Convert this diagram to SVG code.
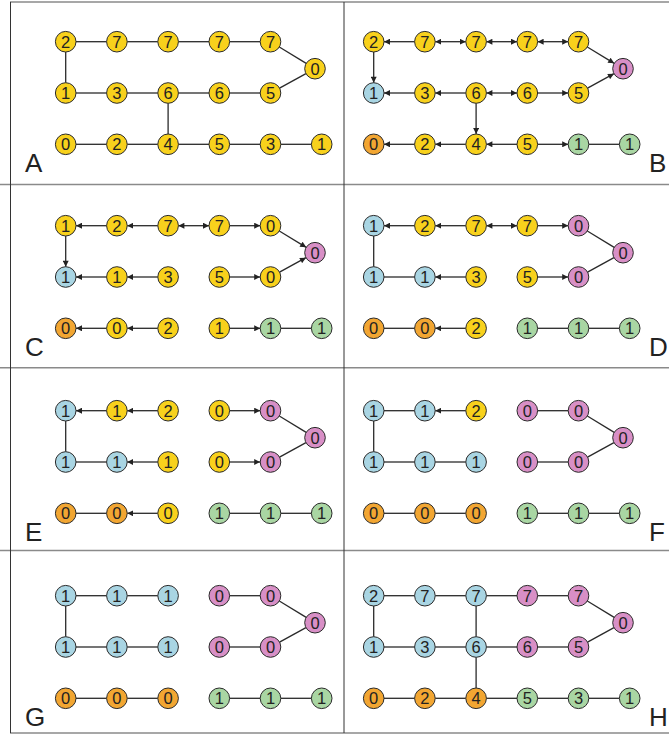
<svg xmlns="http://www.w3.org/2000/svg" width="669" height="734" viewBox="0 0 669 734">
<defs>
<marker id="ah" viewBox="0 0 10 10" refX="10" refY="5" markerUnits="userSpaceOnUse" markerWidth="6.5" markerHeight="6" orient="auto-start-reverse"><path d="M0,0 L10,5 L0,10 z" fill="#222"/></marker>
<style>
.grid{stroke:#8a8a8a;stroke-width:1.5}
.vgrid{stroke:#333;stroke-width:1}
.edges line{stroke:#2a2a2a;stroke-width:1.3;fill:none}
.edges line.a{marker-end:url(#ah)}
.edges line.d{marker-start:url(#ah);marker-end:url(#ah)}
.n circle{stroke:#2a2a2a;stroke-width:1}
.n text{font-family:"Liberation Sans",Arial,sans-serif;font-size:16.5px;fill:#222;text-anchor:middle}
.y circle{fill:#F8D11C}
.b circle{fill:#A9D5E3}
.p circle{fill:#D88FC6}
.o circle{fill:#F2A632}
.g circle{fill:#A9D6A3}
.lbl{font-family:"Liberation Sans",Arial,sans-serif;font-size:26px;fill:#222}
</style>
</defs>
<rect width="669" height="734" fill="#fff"/>
<g id="frame">
<line class="grid" x1="10" y1="2" x2="669" y2="2"/>
<line class="grid" x1="0" y1="184.5" x2="669" y2="184.5"/>
<line class="grid" x1="0" y1="367.7" x2="669" y2="367.7"/>
<line class="grid" x1="0" y1="550.5" x2="669" y2="550.5"/>
<line class="grid" x1="10" y1="733" x2="669" y2="733"/>
<line class="vgrid" x1="10.5" y1="2" x2="10.5" y2="733"/>
<line class="vgrid" x1="344" y1="2" x2="344" y2="733"/>
</g>
<g id="labels">
<text class="lbl" x="25" y="172">A</text>
<text class="lbl" x="649" y="172">B</text>
<text class="lbl" x="25" y="356">C</text>
<text class="lbl" x="649" y="356">D</text>
<text class="lbl" x="25" y="541">E</text>
<text class="lbl" x="649" y="541">F</text>
<text class="lbl" x="25" y="726">G</text>
<text class="lbl" x="649" y="726">H</text>
</g>

<!-- Panel A -->
<g id="panelA">
<g id="A-connectors" class="edges">
<line x1="76" y1="41.7" x2="106.6" y2="41.7"/>
<line x1="127.2" y1="41.7" x2="157.8" y2="41.7"/>
<line x1="178.4" y1="41.7" x2="209" y2="41.7"/>
<line x1="229.6" y1="41.7" x2="260.2" y2="41.7"/>
<line x1="279.31" y1="47.05" x2="306.19" y2="63.35"/>
<line x1="305.96" y1="73.64" x2="279.54" y2="88.06"/>
<line x1="76" y1="93" x2="106.6" y2="93"/>
<line x1="127.2" y1="93" x2="157.8" y2="93"/>
<line x1="178.4" y1="93" x2="209" y2="93"/>
<line x1="229.6" y1="93" x2="260.2" y2="93"/>
<line x1="65.7" y1="52" x2="65.7" y2="82.7"/>
<line x1="168.1" y1="103.3" x2="168.1" y2="134"/>
<line x1="76" y1="144.3" x2="106.6" y2="144.3"/>
<line x1="127.2" y1="144.3" x2="157.8" y2="144.3"/>
<line x1="178.4" y1="144.3" x2="209" y2="144.3"/>
<line x1="229.6" y1="144.3" x2="260.2" y2="144.3"/>
<line x1="280.8" y1="144.3" x2="311.4" y2="144.3"/>
</g>
<g id="A-t0" class="n y"><circle cx="65.7" cy="41.7" r="10.3"/><text x="65.7" y="47.6">2</text></g>
<g id="A-t1" class="n y"><circle cx="116.9" cy="41.7" r="10.3"/><text x="116.9" y="47.6">7</text></g>
<g id="A-t2" class="n y"><circle cx="168.1" cy="41.7" r="10.3"/><text x="168.1" y="47.6">7</text></g>
<g id="A-t3" class="n y"><circle cx="219.3" cy="41.7" r="10.3"/><text x="219.3" y="47.6">7</text></g>
<g id="A-t4" class="n y"><circle cx="270.5" cy="41.7" r="10.3"/><text x="270.5" y="47.6">7</text></g>
<g id="A-z" class="n y"><circle cx="315" cy="68.7" r="10.3"/><text x="315" y="74.6">0</text></g>
<g id="A-m0" class="n y"><circle cx="65.7" cy="93" r="10.3"/><text x="65.7" y="98.9">1</text></g>
<g id="A-m1" class="n y"><circle cx="116.9" cy="93" r="10.3"/><text x="116.9" y="98.9">3</text></g>
<g id="A-m2" class="n y"><circle cx="168.1" cy="93" r="10.3"/><text x="168.1" y="98.9">6</text></g>
<g id="A-m3" class="n y"><circle cx="219.3" cy="93" r="10.3"/><text x="219.3" y="98.9">6</text></g>
<g id="A-m4" class="n y"><circle cx="270.5" cy="93" r="10.3"/><text x="270.5" y="98.9">5</text></g>
<g id="A-b0" class="n y"><circle cx="65.7" cy="144.3" r="10.3"/><text x="65.7" y="150.2">0</text></g>
<g id="A-b1" class="n y"><circle cx="116.9" cy="144.3" r="10.3"/><text x="116.9" y="150.2">2</text></g>
<g id="A-b2" class="n y"><circle cx="168.1" cy="144.3" r="10.3"/><text x="168.1" y="150.2">4</text></g>
<g id="A-b3" class="n y"><circle cx="219.3" cy="144.3" r="10.3"/><text x="219.3" y="150.2">5</text></g>
<g id="A-b4" class="n y"><circle cx="270.5" cy="144.3" r="10.3"/><text x="270.5" y="150.2">3</text></g>
<g id="A-b5" class="n y"><circle cx="321.7" cy="144.3" r="10.3"/><text x="321.7" y="150.2">1</text></g>
</g>

<!-- Panel B -->
<g id="panelB" transform="translate(308,0)">
<g id="B-connectors" class="edges">
<line class="a" x1="106.6" y1="41.7" x2="76" y2="41.7"/>
<line class="d" x1="127.2" y1="41.7" x2="157.8" y2="41.7"/>
<line class="d" x1="178.4" y1="41.7" x2="209" y2="41.7"/>
<line class="d" x1="229.6" y1="41.7" x2="260.2" y2="41.7"/>
<line class="a" x1="279.31" y1="47.05" x2="306.19" y2="63.35"/>
<line class="a" x1="279.54" y1="88.06" x2="305.96" y2="73.64"/>
<line class="a" x1="65.7" y1="52" x2="65.7" y2="82.7"/>
<line class="a" x1="106.6" y1="93" x2="76" y2="93"/>
<line class="a" x1="157.8" y1="93" x2="127.2" y2="93"/>
<line class="d" x1="178.4" y1="93" x2="209" y2="93"/>
<line class="a" x1="229.6" y1="93" x2="260.2" y2="93"/>
<line class="a" x1="168.1" y1="103.3" x2="168.1" y2="134"/>
<line class="a" x1="106.6" y1="144.3" x2="76" y2="144.3"/>
<line class="a" x1="157.8" y1="144.3" x2="127.2" y2="144.3"/>
<line class="a" x1="209" y1="144.3" x2="178.4" y2="144.3"/>
<line class="a" x1="229.6" y1="144.3" x2="260.2" y2="144.3"/>
<line x1="280.8" y1="144.3" x2="311.4" y2="144.3"/>
</g>
<g id="B-t0" class="n y"><circle cx="65.7" cy="41.7" r="10.3"/><text x="65.7" y="47.6">2</text></g>
<g id="B-t1" class="n y"><circle cx="116.9" cy="41.7" r="10.3"/><text x="116.9" y="47.6">7</text></g>
<g id="B-t2" class="n y"><circle cx="168.1" cy="41.7" r="10.3"/><text x="168.1" y="47.6">7</text></g>
<g id="B-t3" class="n y"><circle cx="219.3" cy="41.7" r="10.3"/><text x="219.3" y="47.6">7</text></g>
<g id="B-t4" class="n y"><circle cx="270.5" cy="41.7" r="10.3"/><text x="270.5" y="47.6">7</text></g>
<g id="B-z" class="n p"><circle cx="315" cy="68.7" r="10.3"/><text x="315" y="74.6">0</text></g>
<g id="B-m0" class="n b"><circle cx="65.7" cy="93" r="10.3"/><text x="65.7" y="98.9">1</text></g>
<g id="B-m1" class="n y"><circle cx="116.9" cy="93" r="10.3"/><text x="116.9" y="98.9">3</text></g>
<g id="B-m2" class="n y"><circle cx="168.1" cy="93" r="10.3"/><text x="168.1" y="98.9">6</text></g>
<g id="B-m3" class="n y"><circle cx="219.3" cy="93" r="10.3"/><text x="219.3" y="98.9">6</text></g>
<g id="B-m4" class="n y"><circle cx="270.5" cy="93" r="10.3"/><text x="270.5" y="98.9">5</text></g>
<g id="B-b0" class="n o"><circle cx="65.7" cy="144.3" r="10.3"/><text x="65.7" y="150.2">0</text></g>
<g id="B-b1" class="n y"><circle cx="116.9" cy="144.3" r="10.3"/><text x="116.9" y="150.2">2</text></g>
<g id="B-b2" class="n y"><circle cx="168.1" cy="144.3" r="10.3"/><text x="168.1" y="150.2">4</text></g>
<g id="B-b3" class="n y"><circle cx="219.3" cy="144.3" r="10.3"/><text x="219.3" y="150.2">5</text></g>
<g id="B-b4" class="n g"><circle cx="270.5" cy="144.3" r="10.3"/><text x="270.5" y="150.2">1</text></g>
<g id="B-b5" class="n g"><circle cx="321.7" cy="144.3" r="10.3"/><text x="321.7" y="150.2">1</text></g>
</g>

<!-- Panel C -->
<g id="panelC" transform="translate(0,184)">
<g id="C-connectors" class="edges">
<line class="a" x1="106.6" y1="41.7" x2="76" y2="41.7"/>
<line class="a" x1="157.8" y1="41.7" x2="127.2" y2="41.7"/>
<line class="d" x1="178.4" y1="41.7" x2="209" y2="41.7"/>
<line class="a" x1="229.6" y1="41.7" x2="260.2" y2="41.7"/>
<line class="a" x1="279.31" y1="47.05" x2="306.19" y2="63.35"/>
<line class="a" x1="279.54" y1="88.06" x2="305.96" y2="73.64"/>
<line class="a" x1="65.7" y1="52" x2="65.7" y2="82.7"/>
<line class="a" x1="106.6" y1="93" x2="76" y2="93"/>
<line class="a" x1="157.8" y1="93" x2="127.2" y2="93"/>
<line class="a" x1="229.6" y1="93" x2="260.2" y2="93"/>
<line class="a" x1="106.6" y1="144.3" x2="76" y2="144.3"/>
<line class="a" x1="157.8" y1="144.3" x2="127.2" y2="144.3"/>
<line class="a" x1="229.6" y1="144.3" x2="260.2" y2="144.3"/>
<line x1="280.8" y1="144.3" x2="311.4" y2="144.3"/>
</g>
<g id="C-t0" class="n y"><circle cx="65.7" cy="41.7" r="10.3"/><text x="65.7" y="47.6">1</text></g>
<g id="C-t1" class="n y"><circle cx="116.9" cy="41.7" r="10.3"/><text x="116.9" y="47.6">2</text></g>
<g id="C-t2" class="n y"><circle cx="168.1" cy="41.7" r="10.3"/><text x="168.1" y="47.6">7</text></g>
<g id="C-t3" class="n y"><circle cx="219.3" cy="41.7" r="10.3"/><text x="219.3" y="47.6">7</text></g>
<g id="C-t4" class="n y"><circle cx="270.5" cy="41.7" r="10.3"/><text x="270.5" y="47.6">0</text></g>
<g id="C-z" class="n p"><circle cx="315" cy="68.7" r="10.3"/><text x="315" y="74.6">0</text></g>
<g id="C-m0" class="n b"><circle cx="65.7" cy="93" r="10.3"/><text x="65.7" y="98.9">1</text></g>
<g id="C-m1" class="n y"><circle cx="116.9" cy="93" r="10.3"/><text x="116.9" y="98.9">1</text></g>
<g id="C-m2" class="n y"><circle cx="168.1" cy="93" r="10.3"/><text x="168.1" y="98.9">3</text></g>
<g id="C-m3" class="n y"><circle cx="219.3" cy="93" r="10.3"/><text x="219.3" y="98.9">5</text></g>
<g id="C-m4" class="n y"><circle cx="270.5" cy="93" r="10.3"/><text x="270.5" y="98.9">0</text></g>
<g id="C-b0" class="n o"><circle cx="65.7" cy="144.3" r="10.3"/><text x="65.7" y="150.2">0</text></g>
<g id="C-b1" class="n y"><circle cx="116.9" cy="144.3" r="10.3"/><text x="116.9" y="150.2">0</text></g>
<g id="C-b2" class="n y"><circle cx="168.1" cy="144.3" r="10.3"/><text x="168.1" y="150.2">2</text></g>
<g id="C-b3" class="n y"><circle cx="219.3" cy="144.3" r="10.3"/><text x="219.3" y="150.2">1</text></g>
<g id="C-b4" class="n g"><circle cx="270.5" cy="144.3" r="10.3"/><text x="270.5" y="150.2">1</text></g>
<g id="C-b5" class="n g"><circle cx="321.7" cy="144.3" r="10.3"/><text x="321.7" y="150.2">1</text></g>
</g>

<!-- Panel D -->
<g id="panelD" transform="translate(308,184)">
<g id="D-connectors" class="edges">
<line class="a" x1="106.6" y1="41.7" x2="76" y2="41.7"/>
<line class="a" x1="157.8" y1="41.7" x2="127.2" y2="41.7"/>
<line class="d" x1="178.4" y1="41.7" x2="209" y2="41.7"/>
<line class="a" x1="229.6" y1="41.7" x2="260.2" y2="41.7"/>
<line x1="279.31" y1="47.05" x2="306.19" y2="63.35"/>
<line x1="279.54" y1="88.06" x2="305.96" y2="73.64"/>
<line x1="65.7" y1="52" x2="65.7" y2="82.7"/>
<line x1="76" y1="93" x2="106.6" y2="93"/>
<line class="a" x1="157.8" y1="93" x2="127.2" y2="93"/>
<line class="a" x1="229.6" y1="93" x2="260.2" y2="93"/>
<line x1="76" y1="144.3" x2="106.6" y2="144.3"/>
<line class="a" x1="157.8" y1="144.3" x2="127.2" y2="144.3"/>
<line x1="229.6" y1="144.3" x2="260.2" y2="144.3"/>
<line x1="280.8" y1="144.3" x2="311.4" y2="144.3"/>
</g>
<g id="D-t0" class="n b"><circle cx="65.7" cy="41.7" r="10.3"/><text x="65.7" y="47.6">1</text></g>
<g id="D-t1" class="n y"><circle cx="116.9" cy="41.7" r="10.3"/><text x="116.9" y="47.6">2</text></g>
<g id="D-t2" class="n y"><circle cx="168.1" cy="41.7" r="10.3"/><text x="168.1" y="47.6">7</text></g>
<g id="D-t3" class="n y"><circle cx="219.3" cy="41.7" r="10.3"/><text x="219.3" y="47.6">7</text></g>
<g id="D-t4" class="n p"><circle cx="270.5" cy="41.7" r="10.3"/><text x="270.5" y="47.6">0</text></g>
<g id="D-z" class="n p"><circle cx="315" cy="68.7" r="10.3"/><text x="315" y="74.6">0</text></g>
<g id="D-m0" class="n b"><circle cx="65.7" cy="93" r="10.3"/><text x="65.7" y="98.9">1</text></g>
<g id="D-m1" class="n b"><circle cx="116.9" cy="93" r="10.3"/><text x="116.9" y="98.9">1</text></g>
<g id="D-m2" class="n y"><circle cx="168.1" cy="93" r="10.3"/><text x="168.1" y="98.9">3</text></g>
<g id="D-m3" class="n y"><circle cx="219.3" cy="93" r="10.3"/><text x="219.3" y="98.9">5</text></g>
<g id="D-m4" class="n p"><circle cx="270.5" cy="93" r="10.3"/><text x="270.5" y="98.9">0</text></g>
<g id="D-b0" class="n o"><circle cx="65.7" cy="144.3" r="10.3"/><text x="65.7" y="150.2">0</text></g>
<g id="D-b1" class="n o"><circle cx="116.9" cy="144.3" r="10.3"/><text x="116.9" y="150.2">0</text></g>
<g id="D-b2" class="n y"><circle cx="168.1" cy="144.3" r="10.3"/><text x="168.1" y="150.2">2</text></g>
<g id="D-b3" class="n g"><circle cx="219.3" cy="144.3" r="10.3"/><text x="219.3" y="150.2">1</text></g>
<g id="D-b4" class="n g"><circle cx="270.5" cy="144.3" r="10.3"/><text x="270.5" y="150.2">1</text></g>
<g id="D-b5" class="n g"><circle cx="321.7" cy="144.3" r="10.3"/><text x="321.7" y="150.2">1</text></g>
</g>

<!-- Panel E -->
<g id="panelE" transform="translate(0,369)">
<g id="E-connectors" class="edges">
<line class="a" x1="106.6" y1="41.7" x2="76" y2="41.7"/>
<line class="a" x1="157.8" y1="41.7" x2="127.2" y2="41.7"/>
<line class="a" x1="229.6" y1="41.7" x2="260.2" y2="41.7"/>
<line x1="279.31" y1="47.05" x2="306.19" y2="63.35"/>
<line x1="279.54" y1="88.06" x2="305.96" y2="73.64"/>
<line x1="65.7" y1="52" x2="65.7" y2="82.7"/>
<line x1="76" y1="93" x2="106.6" y2="93"/>
<line class="a" x1="157.8" y1="93" x2="127.2" y2="93"/>
<line class="a" x1="229.6" y1="93" x2="260.2" y2="93"/>
<line x1="76" y1="144.3" x2="106.6" y2="144.3"/>
<line class="a" x1="157.8" y1="144.3" x2="127.2" y2="144.3"/>
<line x1="229.6" y1="144.3" x2="260.2" y2="144.3"/>
<line x1="280.8" y1="144.3" x2="311.4" y2="144.3"/>
</g>
<g id="E-t0" class="n b"><circle cx="65.7" cy="41.7" r="10.3"/><text x="65.7" y="47.6">1</text></g>
<g id="E-t1" class="n y"><circle cx="116.9" cy="41.7" r="10.3"/><text x="116.9" y="47.6">1</text></g>
<g id="E-t2" class="n y"><circle cx="168.1" cy="41.7" r="10.3"/><text x="168.1" y="47.6">2</text></g>
<g id="E-t3" class="n y"><circle cx="219.3" cy="41.7" r="10.3"/><text x="219.3" y="47.6">0</text></g>
<g id="E-t4" class="n p"><circle cx="270.5" cy="41.7" r="10.3"/><text x="270.5" y="47.6">0</text></g>
<g id="E-z" class="n p"><circle cx="315" cy="68.7" r="10.3"/><text x="315" y="74.6">0</text></g>
<g id="E-m0" class="n b"><circle cx="65.7" cy="93" r="10.3"/><text x="65.7" y="98.9">1</text></g>
<g id="E-m1" class="n b"><circle cx="116.9" cy="93" r="10.3"/><text x="116.9" y="98.9">1</text></g>
<g id="E-m2" class="n y"><circle cx="168.1" cy="93" r="10.3"/><text x="168.1" y="98.9">1</text></g>
<g id="E-m3" class="n y"><circle cx="219.3" cy="93" r="10.3"/><text x="219.3" y="98.9">0</text></g>
<g id="E-m4" class="n p"><circle cx="270.5" cy="93" r="10.3"/><text x="270.5" y="98.9">0</text></g>
<g id="E-b0" class="n o"><circle cx="65.7" cy="144.3" r="10.3"/><text x="65.7" y="150.2">0</text></g>
<g id="E-b1" class="n o"><circle cx="116.9" cy="144.3" r="10.3"/><text x="116.9" y="150.2">0</text></g>
<g id="E-b2" class="n y"><circle cx="168.1" cy="144.3" r="10.3"/><text x="168.1" y="150.2">0</text></g>
<g id="E-b3" class="n g"><circle cx="219.3" cy="144.3" r="10.3"/><text x="219.3" y="150.2">1</text></g>
<g id="E-b4" class="n g"><circle cx="270.5" cy="144.3" r="10.3"/><text x="270.5" y="150.2">1</text></g>
<g id="E-b5" class="n g"><circle cx="321.7" cy="144.3" r="10.3"/><text x="321.7" y="150.2">1</text></g>
</g>

<!-- Panel F -->
<g id="panelF" transform="translate(308,369)">
<g id="F-connectors" class="edges">
<line x1="76" y1="41.7" x2="106.6" y2="41.7"/>
<line class="a" x1="157.8" y1="41.7" x2="127.2" y2="41.7"/>
<line x1="229.6" y1="41.7" x2="260.2" y2="41.7"/>
<line x1="279.31" y1="47.05" x2="306.19" y2="63.35"/>
<line x1="279.54" y1="88.06" x2="305.96" y2="73.64"/>
<line x1="65.7" y1="52" x2="65.7" y2="82.7"/>
<line x1="76" y1="93" x2="106.6" y2="93"/>
<line x1="127.2" y1="93" x2="157.8" y2="93"/>
<line x1="229.6" y1="93" x2="260.2" y2="93"/>
<line x1="76" y1="144.3" x2="106.6" y2="144.3"/>
<line x1="127.2" y1="144.3" x2="157.8" y2="144.3"/>
<line x1="229.6" y1="144.3" x2="260.2" y2="144.3"/>
<line x1="280.8" y1="144.3" x2="311.4" y2="144.3"/>
</g>
<g id="F-t0" class="n b"><circle cx="65.7" cy="41.7" r="10.3"/><text x="65.7" y="47.6">1</text></g>
<g id="F-t1" class="n b"><circle cx="116.9" cy="41.7" r="10.3"/><text x="116.9" y="47.6">1</text></g>
<g id="F-t2" class="n y"><circle cx="168.1" cy="41.7" r="10.3"/><text x="168.1" y="47.6">2</text></g>
<g id="F-t3" class="n p"><circle cx="219.3" cy="41.7" r="10.3"/><text x="219.3" y="47.6">0</text></g>
<g id="F-t4" class="n p"><circle cx="270.5" cy="41.7" r="10.3"/><text x="270.5" y="47.6">0</text></g>
<g id="F-z" class="n p"><circle cx="315" cy="68.7" r="10.3"/><text x="315" y="74.6">0</text></g>
<g id="F-m0" class="n b"><circle cx="65.7" cy="93" r="10.3"/><text x="65.7" y="98.9">1</text></g>
<g id="F-m1" class="n b"><circle cx="116.9" cy="93" r="10.3"/><text x="116.9" y="98.9">1</text></g>
<g id="F-m2" class="n b"><circle cx="168.1" cy="93" r="10.3"/><text x="168.1" y="98.9">1</text></g>
<g id="F-m3" class="n p"><circle cx="219.3" cy="93" r="10.3"/><text x="219.3" y="98.9">0</text></g>
<g id="F-m4" class="n p"><circle cx="270.5" cy="93" r="10.3"/><text x="270.5" y="98.9">0</text></g>
<g id="F-b0" class="n o"><circle cx="65.7" cy="144.3" r="10.3"/><text x="65.7" y="150.2">0</text></g>
<g id="F-b1" class="n o"><circle cx="116.9" cy="144.3" r="10.3"/><text x="116.9" y="150.2">0</text></g>
<g id="F-b2" class="n o"><circle cx="168.1" cy="144.3" r="10.3"/><text x="168.1" y="150.2">0</text></g>
<g id="F-b3" class="n g"><circle cx="219.3" cy="144.3" r="10.3"/><text x="219.3" y="150.2">1</text></g>
<g id="F-b4" class="n g"><circle cx="270.5" cy="144.3" r="10.3"/><text x="270.5" y="150.2">1</text></g>
<g id="F-b5" class="n g"><circle cx="321.7" cy="144.3" r="10.3"/><text x="321.7" y="150.2">1</text></g>
</g>

<!-- Panel G -->
<g id="panelG" transform="translate(0,554)">
<g id="G-connectors" class="edges">
<line x1="76" y1="41.7" x2="106.6" y2="41.7"/>
<line x1="127.2" y1="41.7" x2="157.8" y2="41.7"/>
<line x1="229.6" y1="41.7" x2="260.2" y2="41.7"/>
<line x1="279.31" y1="47.05" x2="306.19" y2="63.35"/>
<line x1="279.54" y1="88.06" x2="305.96" y2="73.64"/>
<line x1="65.7" y1="52" x2="65.7" y2="82.7"/>
<line x1="76" y1="93" x2="106.6" y2="93"/>
<line x1="127.2" y1="93" x2="157.8" y2="93"/>
<line x1="229.6" y1="93" x2="260.2" y2="93"/>
<line x1="76" y1="144.3" x2="106.6" y2="144.3"/>
<line x1="127.2" y1="144.3" x2="157.8" y2="144.3"/>
<line x1="229.6" y1="144.3" x2="260.2" y2="144.3"/>
<line x1="280.8" y1="144.3" x2="311.4" y2="144.3"/>
</g>
<g id="G-t0" class="n b"><circle cx="65.7" cy="41.7" r="10.3"/><text x="65.7" y="47.6">1</text></g>
<g id="G-t1" class="n b"><circle cx="116.9" cy="41.7" r="10.3"/><text x="116.9" y="47.6">1</text></g>
<g id="G-t2" class="n b"><circle cx="168.1" cy="41.7" r="10.3"/><text x="168.1" y="47.6">1</text></g>
<g id="G-t3" class="n p"><circle cx="219.3" cy="41.7" r="10.3"/><text x="219.3" y="47.6">0</text></g>
<g id="G-t4" class="n p"><circle cx="270.5" cy="41.7" r="10.3"/><text x="270.5" y="47.6">0</text></g>
<g id="G-z" class="n p"><circle cx="315" cy="68.7" r="10.3"/><text x="315" y="74.6">0</text></g>
<g id="G-m0" class="n b"><circle cx="65.7" cy="93" r="10.3"/><text x="65.7" y="98.9">1</text></g>
<g id="G-m1" class="n b"><circle cx="116.9" cy="93" r="10.3"/><text x="116.9" y="98.9">1</text></g>
<g id="G-m2" class="n b"><circle cx="168.1" cy="93" r="10.3"/><text x="168.1" y="98.9">1</text></g>
<g id="G-m3" class="n p"><circle cx="219.3" cy="93" r="10.3"/><text x="219.3" y="98.9">0</text></g>
<g id="G-m4" class="n p"><circle cx="270.5" cy="93" r="10.3"/><text x="270.5" y="98.9">0</text></g>
<g id="G-b0" class="n o"><circle cx="65.7" cy="144.3" r="10.3"/><text x="65.7" y="150.2">0</text></g>
<g id="G-b1" class="n o"><circle cx="116.9" cy="144.3" r="10.3"/><text x="116.9" y="150.2">0</text></g>
<g id="G-b2" class="n o"><circle cx="168.1" cy="144.3" r="10.3"/><text x="168.1" y="150.2">0</text></g>
<g id="G-b3" class="n g"><circle cx="219.3" cy="144.3" r="10.3"/><text x="219.3" y="150.2">1</text></g>
<g id="G-b4" class="n g"><circle cx="270.5" cy="144.3" r="10.3"/><text x="270.5" y="150.2">1</text></g>
<g id="G-b5" class="n g"><circle cx="321.7" cy="144.3" r="10.3"/><text x="321.7" y="150.2">1</text></g>
</g>

<!-- Panel H -->
<g id="panelH" transform="translate(308,554)">
<g id="H-connectors" class="edges">
<line x1="76" y1="41.7" x2="106.6" y2="41.7"/>
<line x1="127.2" y1="41.7" x2="157.8" y2="41.7"/>
<line x1="178.4" y1="41.7" x2="209" y2="41.7"/>
<line x1="229.6" y1="41.7" x2="260.2" y2="41.7"/>
<line x1="279.31" y1="47.05" x2="306.19" y2="63.35"/>
<line x1="279.54" y1="88.06" x2="305.96" y2="73.64"/>
<line x1="76" y1="93" x2="106.6" y2="93"/>
<line x1="127.2" y1="93" x2="157.8" y2="93"/>
<line x1="178.4" y1="93" x2="209" y2="93"/>
<line x1="229.6" y1="93" x2="260.2" y2="93"/>
<line x1="65.7" y1="52" x2="65.7" y2="82.7"/>
<line x1="168.1" y1="52" x2="168.1" y2="82.7"/>
<line x1="168.1" y1="103.3" x2="168.1" y2="134"/>
<line x1="76" y1="144.3" x2="106.6" y2="144.3"/>
<line x1="127.2" y1="144.3" x2="157.8" y2="144.3"/>
<line x1="178.4" y1="144.3" x2="209" y2="144.3"/>
<line x1="229.6" y1="144.3" x2="260.2" y2="144.3"/>
<line x1="280.8" y1="144.3" x2="311.4" y2="144.3"/>
</g>
<g id="H-t0" class="n b"><circle cx="65.7" cy="41.7" r="10.3"/><text x="65.7" y="47.6">2</text></g>
<g id="H-t1" class="n b"><circle cx="116.9" cy="41.7" r="10.3"/><text x="116.9" y="47.6">7</text></g>
<g id="H-t2" class="n b"><circle cx="168.1" cy="41.7" r="10.3"/><text x="168.1" y="47.6">7</text></g>
<g id="H-t3" class="n p"><circle cx="219.3" cy="41.7" r="10.3"/><text x="219.3" y="47.6">7</text></g>
<g id="H-t4" class="n p"><circle cx="270.5" cy="41.7" r="10.3"/><text x="270.5" y="47.6">7</text></g>
<g id="H-z" class="n p"><circle cx="315" cy="68.7" r="10.3"/><text x="315" y="74.6">0</text></g>
<g id="H-m0" class="n b"><circle cx="65.7" cy="93" r="10.3"/><text x="65.7" y="98.9">1</text></g>
<g id="H-m1" class="n b"><circle cx="116.9" cy="93" r="10.3"/><text x="116.9" y="98.9">3</text></g>
<g id="H-m2" class="n b"><circle cx="168.1" cy="93" r="10.3"/><text x="168.1" y="98.9">6</text></g>
<g id="H-m3" class="n p"><circle cx="219.3" cy="93" r="10.3"/><text x="219.3" y="98.9">6</text></g>
<g id="H-m4" class="n p"><circle cx="270.5" cy="93" r="10.3"/><text x="270.5" y="98.9">5</text></g>
<g id="H-b0" class="n o"><circle cx="65.7" cy="144.3" r="10.3"/><text x="65.7" y="150.2">0</text></g>
<g id="H-b1" class="n o"><circle cx="116.9" cy="144.3" r="10.3"/><text x="116.9" y="150.2">2</text></g>
<g id="H-b2" class="n o"><circle cx="168.1" cy="144.3" r="10.3"/><text x="168.1" y="150.2">4</text></g>
<g id="H-b3" class="n g"><circle cx="219.3" cy="144.3" r="10.3"/><text x="219.3" y="150.2">5</text></g>
<g id="H-b4" class="n g"><circle cx="270.5" cy="144.3" r="10.3"/><text x="270.5" y="150.2">3</text></g>
<g id="H-b5" class="n g"><circle cx="321.7" cy="144.3" r="10.3"/><text x="321.7" y="150.2">1</text></g>
</g>
</svg>
